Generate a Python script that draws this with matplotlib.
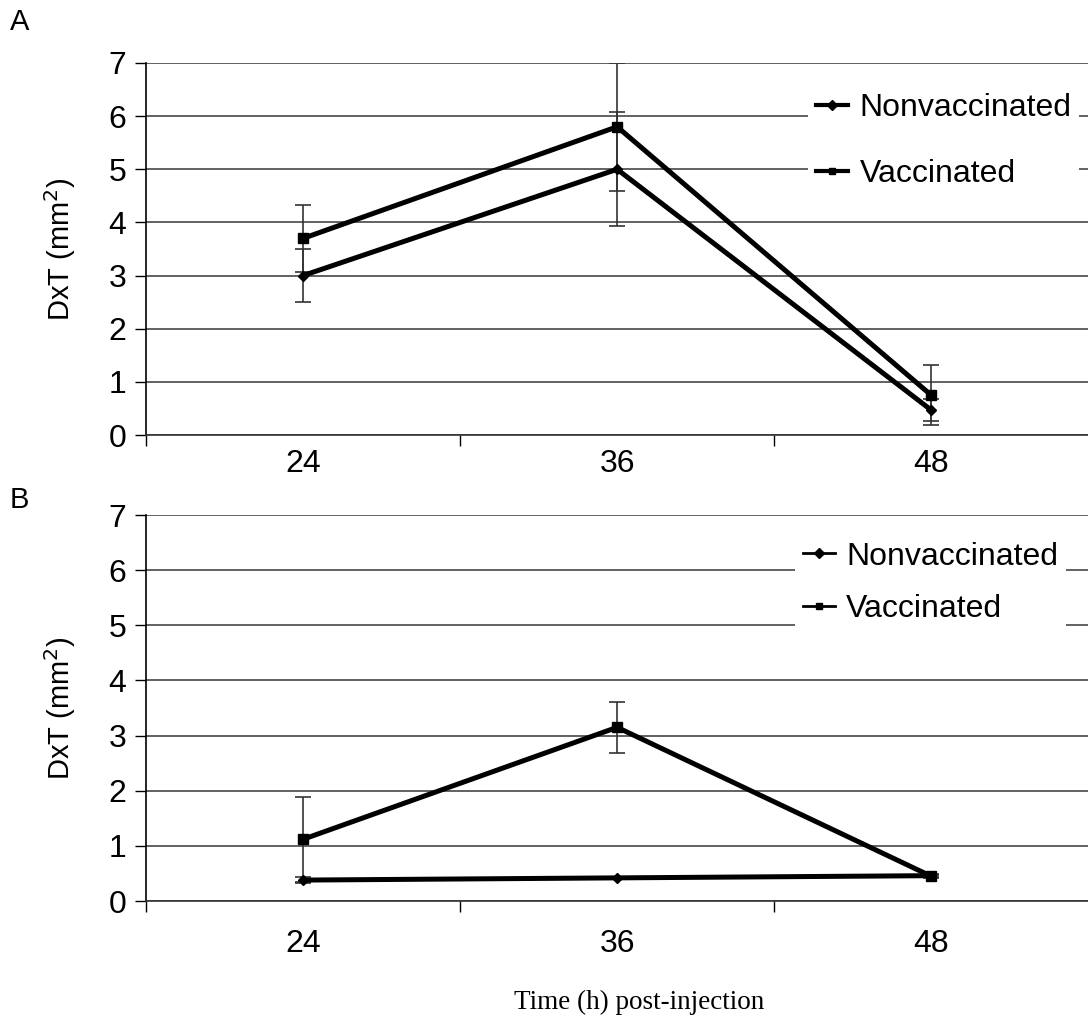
import numpy as np
import matplotlib.pyplot as plt

plt.rcParams['font.family'] = ['Liberation Sans', 'DejaVu Sans']

hours = ['24', '36', '48']

# panel A
nonvac_a = [3.0, 5.0, 0.47]
nonvac_a_err = [0.5, 1.07, 0.2]
vac_a = [3.7, 5.8, 0.75]
vac_a_err = [0.63, 1.2, 0.57]

# panel B
nonvac_b = [0.38, 0.42, 0.46]
nonvac_b_err = [0.05, 0.02, 0.03]
vac_b = [1.12, 3.15, 0.45]
vac_b_err = [0.77, 0.46, 0.03]

fig = plt.figure(figsize=(10.88, 10.26), dpi=100)
ax_a = fig.add_axes([0.1342, 0.576, 0.866, 0.3626])
ax_b = fig.add_axes([0.1342, 0.1218, 0.866, 0.3762])

x = np.arange(len(hours))


def draw_panel(ax, nv, nv_err, v, v_err, xpad, leg_lw, leg_loc, leg_space):
    ev = ax.errorbar(x, v, yerr=v_err, color='black', lw=3.6, marker='s', ms=7,
                     ecolor='#333333', elinewidth=1.2, capsize=6, capthick=1.2,
                     zorder=3)
    en = ax.errorbar(x, nv, yerr=nv_err, color='black', lw=3.6, marker='D', ms=5,
                     ecolor='#333333', elinewidth=1.2, capsize=6, capthick=1.2,
                     zorder=3)
    ax.set_xlim(-0.5, 2.5)
    ax.set_ylim(0, 7)
    ax.set_yticks(range(8))
    ax.set_xticks(x)
    ax.set_xticklabels(hours)
    ax.set_xticks([-0.5, 0.5, 1.5], minor=True)
    ax.tick_params(axis='x', which='major', length=0, labelsize=23, pad=xpad)
    ax.tick_params(axis='x', which='minor', length=8, width=1, direction='out')
    ax.tick_params(axis='y', length=8, width=1, labelsize=23, pad=6)
    ax.yaxis.grid(True, color='#555555', lw=1.3)
    ax.set_axisbelow(True)
    for s in ['top', 'right']:
        ax.spines[s].set_visible(False)
    ax.spines['left'].set_linewidth(1.2)
    ax.spines['bottom'].set_linewidth(1.2)
    ax.spines['bottom'].set_color('#333333')
    ax.set_ylabel('DxT (mm$^2$)', fontsize=21, labelpad=22)
    leg = ax.legend([en[0], ev[0]], ['Nonvaccinated', 'Vaccinated'],
                    loc='upper left', bbox_to_anchor=leg_loc, fontsize=23,
                    frameon=True, facecolor='white', edgecolor='none',
                    framealpha=1, fancybox=False, handlelength=1.0,
                    handletextpad=0.35, labelspacing=leg_space, borderpad=0.25,
                    borderaxespad=0)
    for h in leg.legend_handles:
        h.set_linewidth(leg_lw)
        h.set_markersize(5)


draw_panel(ax_a, nonvac_a, nonvac_a_err, vac_a, vac_a_err, 10, 3, (0.703, 0.94), 1.12)
draw_panel(ax_b, nonvac_b, nonvac_b_err, vac_b, vac_b_err, 20, 2, (0.689, 0.952), 0.7)

fig.text(0.009, 0.992, 'A', fontsize=21, va='top')
fig.text(0.009, 0.526, 'B', fontsize=21, va='top')
fig.text(0.587, 0.017, 'Time (h) post-injection', fontsize=19.5, ha='center',
         family=['Liberation Serif', 'DejaVu Serif'])

fig.savefig('out.png', dpi=100)
